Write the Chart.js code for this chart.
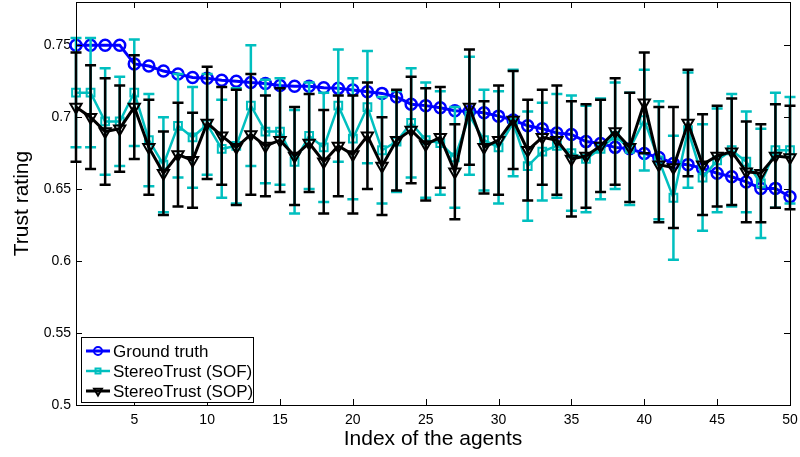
<!DOCTYPE html>
<html>
<head>
<meta charset="utf-8">
<script src="https://cdn.jsdelivr.net/npm/chart.js@4.4.1/dist/chart.umd.min.js"></script>
<style>
    html, body { margin: 0; padding: 0; background: #fff; }
</style>
</head>
<body>
<canvas id="trustChart" width="800" height="457"></canvas>
<script>
// --- data ---
const agentIndex = Array.from({ length: 50 }, (_, i) => i + 1);
const xTicks = [5, 10, 15, 20, 25, 30, 35, 40, 45, 50];
const yTicks = [0.5, 0.55, 0.6, 0.65, 0.7, 0.75];
const seriesNames = ['Ground truth', 'StereoTrust (SOF)', 'StereoTrust (SOP)'];

const groundTruth = [
    0.750, 0.750, 0.750, 0.750, 0.737, 0.7355, 0.732, 0.730, 0.7275, 0.727,
    0.7257, 0.725, 0.724, 0.7234, 0.722, 0.7215, 0.7215, 0.7204, 0.720, 0.7188,
    0.7176, 0.7165, 0.714, 0.709, 0.708, 0.7065, 0.7045, 0.704, 0.703, 0.7007,
    0.698, 0.694, 0.692, 0.689, 0.688, 0.683, 0.6817, 0.679, 0.678, 0.6748,
    0.672, 0.6678, 0.667, 0.6644, 0.661, 0.6586, 0.655, 0.6505, 0.6505, 0.6447
];
const sofMean = [
    0.717, 0.717, 0.697, 0.697, 0.717, 0.684, 0.667, 0.694, 0.686, 0.695,
    0.678, 0.680, 0.708, 0.690, 0.690, 0.669, 0.687, 0.679, 0.708, 0.685,
    0.707, 0.677, 0.683, 0.696, 0.684, 0.682, 0.672, 0.701, 0.684, 0.679,
    0.696, 0.666, 0.676, 0.680, 0.675, 0.671, 0.678, 0.687, 0.678, 0.698,
    0.670, 0.644, 0.691, 0.658, 0.670, 0.677, 0.669, 0.654, 0.677, 0.677
];
const sofErr = [
    0.038, 0.038, 0.037, 0.031, 0.037, 0.032, 0.033, 0.036, 0.035, 0.035,
    0.034, 0.040, 0.042, 0.036, 0.037, 0.036, 0.037, 0.038, 0.039, 0.042,
    0.039, 0.037, 0.035, 0.038, 0.040, 0.036, 0.035, 0.041, 0.035, 0.039,
    0.037, 0.038, 0.034, 0.036, 0.040, 0.037, 0.035, 0.037, 0.039, 0.035,
    0.041, 0.043, 0.040, 0.037, 0.036, 0.039, 0.035, 0.038, 0.040, 0.037
];
const sopMean = [
    0.707, 0.700, 0.690, 0.692, 0.707, 0.679, 0.661, 0.674, 0.670, 0.696,
    0.687, 0.679, 0.688, 0.680, 0.684, 0.673, 0.682, 0.669, 0.680, 0.674,
    0.687, 0.666, 0.684, 0.691, 0.681, 0.686, 0.662, 0.707, 0.679, 0.684,
    0.698, 0.677, 0.686, 0.684, 0.671, 0.673, 0.680, 0.690, 0.679, 0.710,
    0.667, 0.665, 0.696, 0.667, 0.673, 0.676, 0.662, 0.661, 0.673, 0.672
];
const sopErr = [
    0.038, 0.036, 0.037, 0.030, 0.036, 0.033, 0.029, 0.036, 0.033, 0.039,
    0.034, 0.040, 0.042, 0.035, 0.036, 0.034, 0.034, 0.036, 0.035, 0.041,
    0.037, 0.034, 0.035, 0.037, 0.039, 0.035, 0.033, 0.040, 0.032, 0.038,
    0.034, 0.035, 0.033, 0.038, 0.040, 0.036, 0.032, 0.037, 0.038, 0.035,
    0.040, 0.042, 0.037, 0.035, 0.035, 0.037, 0.035, 0.034, 0.036, 0.036
];

const FONT = '"Liberation Sans", Arial, Helvetica, sans-serif';
const toPoints = vals => vals.map((v, i) => ({ x: agentIndex[i], y: v }));

// error bars, drawn just before their own line so the stacking matches
const errorBars = {
    id: 'errorBars',
    beforeDatasetDraw(chart, args) {
        const ds = chart.data.datasets[args.index];
        if (!ds.errors) return;
        const xs = chart.scales.x, ys = chart.scales.y;
        const ctx = chart.ctx;
        ctx.save();
        ctx.strokeStyle = ds.borderColor;
        ctx.lineWidth = 2.5;
        ds.data.forEach((p, i) => {
            const px = xs.getPixelForValue(p.x);
            const top = ys.getPixelForValue(p.y + ds.errors[i]);
            const bot = ys.getPixelForValue(p.y - ds.errors[i]);
            ctx.beginPath();
            ctx.moveTo(px, top); ctx.lineTo(px, bot);
            ctx.moveTo(px - 5.5, top); ctx.lineTo(px + 5.5, top);
            ctx.moveTo(px - 5.5, bot); ctx.lineTo(px + 5.5, bot);
            ctx.stroke();
        });
        ctx.restore();
    }
};

// matlab style box with inward ticks
const frameTicks = {
    id: 'frameTicks',
    afterDraw(chart) {
        const { ctx, chartArea: a } = chart;
        const xs = chart.scales.x, ys = chart.scales.y;
        ctx.save();
        ctx.strokeStyle = '#000';
        ctx.lineWidth = 1;
        ctx.beginPath();
        xTicks.forEach(v => {
            const px = Math.round(xs.getPixelForValue(v)) + 0.5;
            ctx.moveTo(px, a.bottom); ctx.lineTo(px, a.bottom - 6);
            ctx.moveTo(px, a.top); ctx.lineTo(px, a.top + 6);
        });
        yTicks.forEach(v => {
            const py = Math.round(ys.getPixelForValue(v)) + 0.5;
            ctx.moveTo(a.left, py); ctx.lineTo(a.left + 6, py);
            ctx.moveTo(a.right, py); ctx.lineTo(a.right - 6, py);
        });
        ctx.stroke();
        ctx.strokeRect(a.left + 0.5, a.top + 0.5, a.right - a.left, a.bottom - a.top);
        ctx.restore();
    }
};

// boxed legend in the lower left corner of the axes
const legendRadius = [4, 3.5, 4.5];
const boxLegend = {
    id: 'boxLegend',
    afterDraw(chart) {
        const { ctx, chartArea: a } = chart;
        const x0 = a.left + 5, y0 = a.bottom - 68, w = 172, h = 65;
        ctx.save();
        ctx.fillStyle = '#fff';
        ctx.fillRect(x0, y0, w, h);
        ctx.strokeStyle = '#000';
        ctx.lineWidth = 1;
        ctx.strokeRect(x0 + 0.5, y0 + 0.5, w, h);
        chart.data.datasets.forEach((ds, i) => {
            const cy = y0 + 14 + i * 20;
            ctx.strokeStyle = ds.borderColor;
            ctx.lineWidth = ds.borderWidth;
            ctx.beginPath();
            ctx.moveTo(x0 + 5, cy); ctx.lineTo(x0 + 29, cy);
            ctx.stroke();
            ctx.lineWidth = 2;
            ctx.fillStyle = 'rgba(0,0,0,0)';
            Chart.helpers.drawPoint(ctx, {
                pointStyle: ds.pointStyle,
                rotation: ds.pointRotation || 0,
                radius: legendRadius[i],
                borderWidth: 2
            }, x0 + 17, cy);
            ctx.fillStyle = '#000';
            ctx.font = '17px ' + FONT;
            ctx.textBaseline = 'middle';
            ctx.fillText(ds.label, x0 + 32, cy + 1);
        });
        ctx.restore();
    }
};

new Chart(document.getElementById('trustChart'), {
    type: 'line',
    data: {
        datasets: [
            {
                label: seriesNames[0],
                data: toPoints(groundTruth),
                borderColor: '#0000FF',
                borderWidth: 3,
                pointStyle: 'circle',
                pointRadius: 5.5,
                pointBorderWidth: 2.5,
                pointBackgroundColor: 'rgba(0,0,0,0)',
                order: 3
            },
            {
                label: seriesNames[1],
                data: toPoints(sofMean),
                errors: sofErr,
                borderColor: '#00BFBF',
                borderWidth: 2.5,
                pointStyle: 'rect',
                pointRadius: 5.5,
                pointBorderWidth: 2,
                pointBackgroundColor: 'rgba(0,0,0,0)',
                order: 2
            },
            {
                label: seriesNames[2],
                data: toPoints(sopMean),
                errors: sopErr,
                borderColor: '#000000',
                borderWidth: 3,
                pointStyle: 'triangle',
                pointRotation: 180,
                pointRadius: 6.5,
                pointBorderWidth: 2,
                pointBackgroundColor: 'rgba(0,0,0,0)',
                order: 1
            }
        ]
    },
    options: {
        responsive: false,
        animation: false,
        layout: { autoPadding: false, padding: { top: 2, right: 10, left: 0, bottom: 0 } },
        plugins: { legend: { display: false }, tooltip: { enabled: false } },
        elements: { line: { tension: 0 } },
        datasets: { line: { clip: false } },
        scales: {
            x: {
                type: 'linear',
                min: 1,
                max: 50,
                afterBuildTicks: s => { s.ticks = xTicks.map(v => ({ value: v })); },
                afterFit: s => { s.height = 52; s.paddingLeft = 0; s.paddingRight = 0; },
                grid: { display: false, drawTicks: false },
                border: { display: false },
                ticks: { color: '#000', padding: 7, font: { size: 14, family: FONT }, maxRotation: 0 },
                title: { display: true, text: 'Index of the agents', color: '#000',
                         font: { size: 21, family: FONT }, padding: { top: 0, bottom: 5 } }
            },
            y: {
                min: 0.5,
                max: 0.78,
                afterBuildTicks: s => { s.ticks = yTicks.map(v => ({ value: v })); },
                afterFit: s => { s.width = 76; s.paddingTop = 0; s.paddingBottom = 0; },
                grid: { display: false, drawTicks: false },
                border: { display: false },
                ticks: { color: '#000', padding: 5, font: { size: 14, family: FONT },
                         callback: v => String(v) },
                title: { display: true, text: 'Trust rating', color: '#000',
                         font: { size: 21, family: FONT }, padding: { top: 10, bottom: 0 } }
            }
        }
    },
    plugins: [errorBars, frameTicks, boxLegend]
});
</script>
</body>
</html>
